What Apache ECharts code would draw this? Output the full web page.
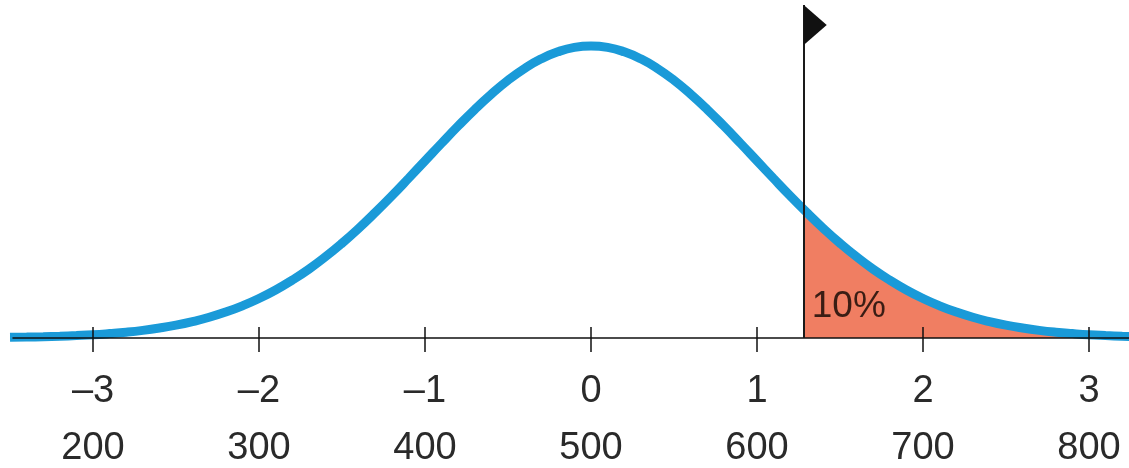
<!DOCTYPE html>
<html>
<head>
<meta charset="utf-8">
<script src="https://cdn.jsdelivr.net/npm/echarts@6/dist/echarts.min.js"></script>
<style>html,body{margin:0;padding:0;background:#fff}#c{width:1129px;height:468px}</style>
</head>
<body>
<div id="c"></div>
<script>
// z-scores of the plotted curve points
const curveZ = [-3.5,-3.4,-3.3,-3.2,-3.1,-3.0,-2.9,-2.8,-2.7,-2.6,-2.5,-2.4,-2.3,-2.2,-2.1,-2.0,-1.9,-1.8,-1.7,-1.6,-1.5,-1.4,-1.3,-1.2,-1.1,-1.0,-0.9,-0.8,-0.7,-0.6,-0.5,-0.4,-0.3,-0.2,-0.1,0.0,0.1,0.2,0.3,0.4,0.5,0.6,0.7,0.8,0.9,1.0,1.1,1.2,1.3,1.4,1.5,1.6,1.7,1.8,1.9,2.0,2.1,2.2,2.3,2.4,2.5,2.6,2.7,2.8,2.9,3.0,3.1,3.2,3.3];
// curve heights (density)
const curveY = [0.0009,0.0012,0.0017,0.0024,0.0033,0.0044,0.0060,0.0079,0.0104,0.0136,0.0175,0.0224,0.0283,0.0355,0.0440,0.0540,0.0656,0.0790,0.0940,0.1109,0.1295,0.1497,0.1714,0.1942,0.2179,0.2420,0.2661,0.2897,0.3123,0.3332,0.3521,0.3683,0.3814,0.3910,0.3970,0.3989,0.3970,0.3910,0.3814,0.3683,0.3521,0.3332,0.3123,0.2897,0.2661,0.2420,0.2179,0.1942,0.1714,0.1497,0.1295,0.1109,0.0940,0.0790,0.0656,0.0540,0.0440,0.0355,0.0283,0.0224,0.0175,0.0136,0.0104,0.0079,0.0060,0.0044,0.0033,0.0024,0.0017];
// shaded upper tail (top 10%)
const shadeZ = [1.2816,1.3,1.4,1.5,1.6,1.7,1.8,1.9,2.0,2.1,2.2,2.3,2.4,2.5,2.6,2.7,2.8,2.9,3.0,3.1,3.2,3.3];
const shadeY = [0.1758,0.1714,0.1497,0.1295,0.1109,0.0940,0.0790,0.0656,0.0540,0.0440,0.0355,0.0283,0.0224,0.0175,0.0136,0.0104,0.0079,0.0060,0.0044,0.0033,0.0024,0.0017];
const cutoffZ = 1.2816;
const shadeLabel = '10%';
const labelPos = [1.33, 0.0424];
// tick labels
const zTicks = [-3,-2,-1,0,1,2,3];
const zLabels = ['–3','–2','–1','0','1','2','3'];
const scoreLabels = ['200','300','400','500','600','700','800'];

const zip = (a, b) => a.map((v, i) => [v, b[i]]);
const lbl = (arr) => (v) => { const i = zTicks.indexOf(Math.round(v)); return i >= 0 ? arr[i] : ''; };
const font = {fontFamily: 'Liberation Sans', fontSize: 38, color: '#2a2a2a'};

const chart = echarts.init(document.getElementById('c'));
chart.setOption({
  animation: false,
  grid: {left: 13, right: 0, top: 0, bottom: 130, containLabel: false, outerBoundsMode: 'none'},
  xAxis: [
    {type: 'value', min: -3.482, max: 3.241, z: 3,
     axisLine: {show: true, onZero: false, lineStyle: {color: '#111', width: 1.5}},
     axisTick: {show: true, customValues: zTicks, length: 14, inside: false, lineStyle: {color: '#111', width: 1.5}},
     axisLabel: Object.assign({show: true, customValues: zTicks, margin: 35, formatter: lbl(zLabels)}, font),
     splitLine: {show: false}},
    {type: 'value', min: -3.482, max: 3.241, position: 'bottom', z: 3,
     axisLine: {show: false},
     axisTick: {show: true, customValues: zTicks, length: 11, inside: true, lineStyle: {color: '#111', width: 1.5}},
     axisLabel: Object.assign({show: true, customValues: zTicks, margin: 92, inside: false, formatter: lbl(scoreLabels)}, font),
     splitLine: {show: false}}
  ],
  yAxis: {type: 'value', min: 0, max: 0.4618, show: false},
  series: [
    {type: 'line', xAxisIndex: 0, data: zip(shadeZ, shadeY), smooth: true, showSymbol: false, z: 1,
     lineStyle: {width: 0}, areaStyle: {color: '#f07e62', opacity: 1},
     markPoint: {symbol: 'rect', symbolSize: 1, itemStyle: {color: 'rgba(0,0,0,0)'},
       label: {show: true, position: 'inside', align: 'left', verticalAlign: 'middle', formatter: shadeLabel,
               fontFamily: 'Liberation Sans', fontSize: 37, color: '#3a1d14'},
       data: [{coord: labelPos}]}},
    {type: 'line', xAxisIndex: 0, data: zip(curveZ, curveY), smooth: true, showSymbol: false, z: 2,
     lineStyle: {color: '#1a9ad8', width: 9}},
    {type: 'line', xAxisIndex: 0, data: [], z: 4,
     markLine: {silent: true, symbol: ['none', 'none'], label: {show: false},
       lineStyle: {color: '#1a1a1a', width: 2, type: 'solid'},
       data: [[{coord: [cutoffZ, 0]}, {coord: [cutoffZ, 0.455]}]]},
     markPoint: {symbol: 'path://M0,0 L1,0.5 L0,1 Z', symbolSize: [23, 40], symbolOffset: [11.5, 0],
       itemStyle: {color: '#111'}, label: {show: false},
       data: [{coord: [cutoffZ, 0.4277]}]}}
  ]
});
</script>
</body>
</html>
